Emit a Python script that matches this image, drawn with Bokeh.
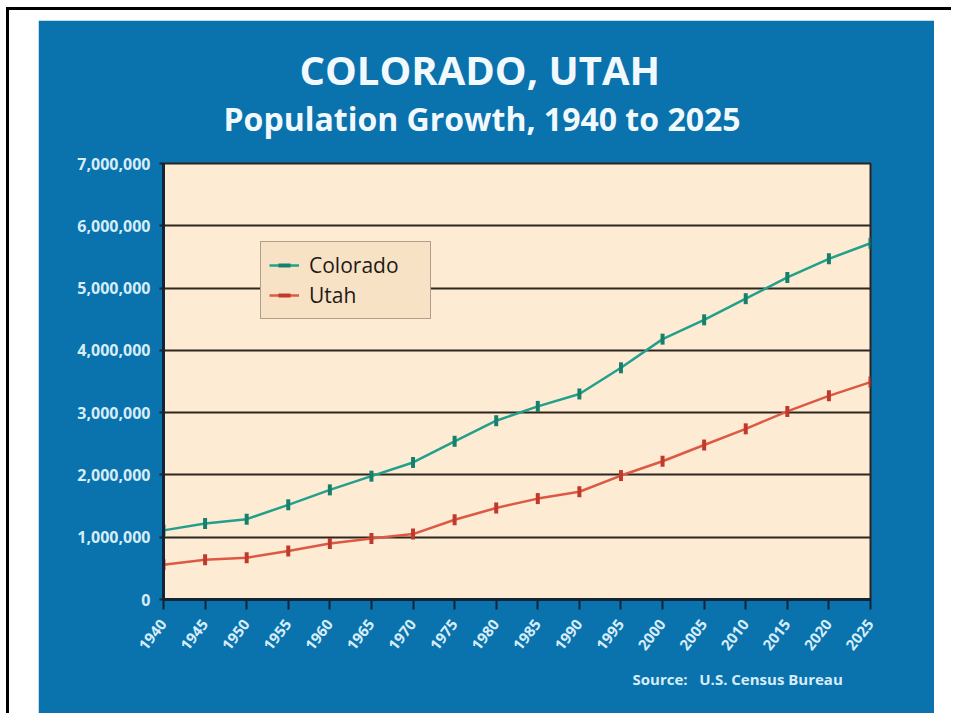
import math
from bokeh.plotting import figure
from bokeh.models import (ColumnDataSource, Legend, LegendItem, Title,
                          NumeralTickFormatter, FixedTicker, Range1d)
from bokeh.layouts import column
from bokeh.embed import file_html
from bokeh.resources import INLINE

# ---- data ----
years = [1940, 1945, 1950, 1955, 1960, 1965, 1970, 1975, 1980,
         1985, 1990, 1995, 2000, 2005, 2010, 2015, 2020, 2025]
colorado = [1110000, 1220000, 1290000, 1520000, 1760000, 1980000, 2200000,
            2540000, 2870000, 3100000, 3300000, 3720000, 4180000, 4490000,
            4830000, 5170000, 5470000, 5720000]
utah = [557000, 640000, 670000, 780000, 900000, 980000, 1050000, 1280000,
        1470000, 1620000, 1730000, 1990000, 2220000, 2480000, 2740000,
        3020000, 3270000, 3490000]
y_ticks = [0, 1000000, 2000000, 3000000, 4000000, 5000000, 6000000, 7000000]
series_names = ["Colorado", "Utah"]
title_text = "COLORADO, UTAH"
subtitle_text = "Population Growth, 1940 to 2025"
source_text = "Source:\u00a0\u00a0\u00a0U.S. Census Bureau"

BLUE = "#0a72ad"
BEIGE = "#fdebd3"
TEAL = "#22a08c"
TEAL_DARK = "#16806c"
RED = "#dc5a45"
RED_DARK = "#c03a2c"
LABEL_COL = "#d6edf8"
FONT = "Open Sans"

src = ColumnDataSource(dict(year=years, colorado=colorado, utah=utah))

p = figure(width=896, height=693, title=None,
           x_range=Range1d(1940, 2025), y_range=Range1d(0, 7000000),
           output_backend="svg", toolbar_location=None,
           min_border_left=125, min_border_right=64,
           min_border_top=143, min_border_bottom=114,
           background_fill_color=BEIGE, border_fill_color=BLUE)

p.outline_line_color = "#2a2420"
p.outline_line_width = 2

# grid
p.xgrid.visible = False
p.ygrid.ticker = FixedTicker(ticks=y_ticks)
p.ygrid.grid_line_color = "#2e2620"
p.ygrid.grid_line_width = 2

# x axis
p.xaxis.ticker = FixedTicker(ticks=years)
p.xaxis.major_label_orientation = math.radians(52)
p.xaxis.major_label_text_color = LABEL_COL
p.xaxis.major_label_text_font = FONT
p.xaxis.major_label_text_font_style = "bold"
p.xaxis.major_label_text_font_size = "15px"
p.xaxis.major_label_standoff = 12
p.xaxis.axis_line_color = "#122436"
p.xaxis.axis_line_width = 3
p.xaxis.major_tick_line_color = "#122436"
p.xaxis.major_tick_line_width = 2
p.xaxis.major_tick_out = 10
p.xaxis.major_tick_in = 0
p.xaxis.minor_tick_line_color = None

# y axis
p.yaxis.ticker = FixedTicker(ticks=y_ticks)
p.yaxis.formatter = NumeralTickFormatter(format="0,0")
p.yaxis.major_label_text_color = LABEL_COL
p.yaxis.major_label_text_font = FONT
p.yaxis.major_label_text_font_style = "bold"
p.yaxis.major_label_text_font_size = "16px"
p.yaxis.major_label_standoff = 9
p.yaxis.axis_line_color = "#122436"
p.yaxis.axis_line_width = 3
p.yaxis.major_tick_line_color = "#122436"
p.yaxis.major_tick_line_width = 2
p.yaxis.major_tick_out = 4
p.yaxis.major_tick_in = 0
p.yaxis.minor_tick_line_color = None

# series
l1 = p.line("year", "colorado", source=src, line_color=TEAL, line_width=2.5)
m1 = p.scatter("year", "colorado", source=src, marker="dash", angle=math.pi / 2,
               size=11, line_color=TEAL_DARK, line_width=4)
l2 = p.line("year", "utah", source=src, line_color=RED, line_width=2.5)
m2 = p.scatter("year", "utah", source=src, marker="dash", angle=math.pi / 2,
               size=11, line_color=RED_DARK, line_width=4)

legend = Legend(items=[LegendItem(label=series_names[0], renderers=[l1, m1]),
                       LegendItem(label=series_names[1], renderers=[l2, m2])],
                location=(97, 280))
legend.background_fill_color = "#f8e2c6"
legend.background_fill_alpha = 1
legend.border_line_color = "#6a5a4c"
legend.border_line_width = 1.5
legend.label_text_font = FONT
legend.label_text_font_size = "21px"
legend.label_text_color = "#1e1a16"
legend.glyph_width = 30
legend.glyph_height = 30
legend.label_height = 30
legend.label_width = 113
legend.label_standoff = 10
legend.padding = 8
legend.spacing = 0
legend.margin = 0
p.add_layout(legend, "center")

# titles (side panels)
t_sub = Title(text=subtitle_text, align="left", offset=60,
              text_color="#f2f9fd", text_font=FONT, text_font_style="bold",
              text_font_size="32px", standoff=47)
t_main = Title(text=title_text, align="left", offset=136,
               text_color="#f2f9fd", text_font=FONT, text_font_style="bold",
               text_font_size="40px", standoff=-50)
p.add_layout(t_sub, "above")
p.add_layout(t_main, "above")

t_src = Title(text=source_text, align="left", offset=469,
              text_color=LABEL_COL, text_font=FONT, text_font_style="bold",
              text_font_size="15px", standoff=18)
p.add_layout(t_src, "below")

root = column(p, styles={"border-left": "3px solid #000000",
                         "border-top": "3px solid #000000",
                         "margin-left": "6px", "margin-top": "7px",
                         "padding-left": "29px", "padding-top": "10px",
                         "padding-right": "17px"})

open("out.html", "w").write(file_html(root, INLINE))
